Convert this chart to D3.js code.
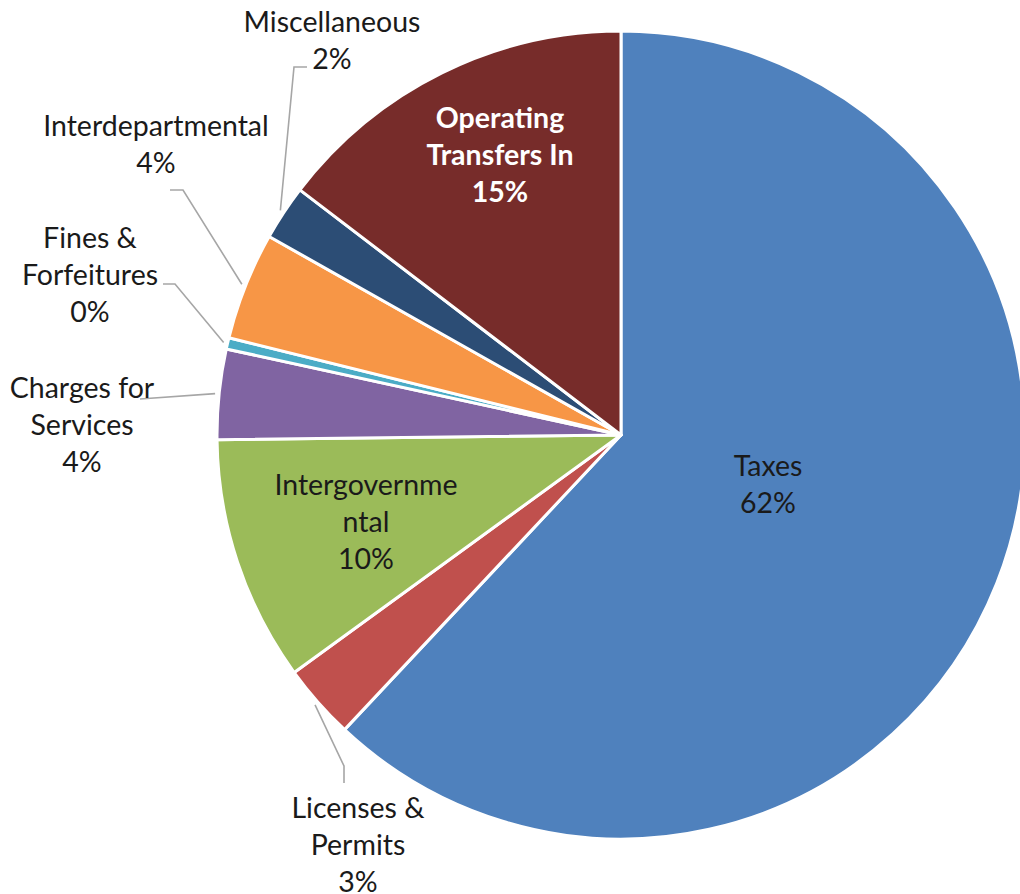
<!DOCTYPE html>
<html>
<head>
<meta charset="utf-8">
<script src="https://cdn.jsdelivr.net/npm/d3@7"></script>
<style>
  html, body { margin: 0; padding: 0; background: #fff; }
  svg { display: block; }
  .lbl { font-family: Lato, "Open Sans", sans-serif; font-size: 28.5px; fill: #1a1a1a; }
</style>
</head>
<body>
<div id="chart"></div>
<script>
// Revenue by source, clockwise from 12 o'clock
const categories = ['Taxes','Licenses & Permits','Intergovernmental','Charges for Services','Fines & Forfeitures','Interdepartmental','Miscellaneous','Operating Transfers In'];
const values = [61.9, 3.0, 9.8, 3.6, 0.45, 4.3, 2.2, 14.6];
const colors = ['#4F81BD','#C0504D','#9BBB59','#8064A2','#4BACC6','#F79646','#2C4D75','#772C2A'];
// how each label name is broken into lines
const labelLines = [['Taxes'],['Licenses &','Permits'],['Intergovernme','ntal'],['Charges for','Services'],['Fines &','Forfeitures'],['Interdepartmental'],['Miscellaneous'],['Operating','Transfers In']];

(function() {
  const W = 1020, H = 894;
  const cx = 621, cy = 435, R = 404;
  const LH = 36.8;

  // label placement: text centre x, first baseline y, leader elbow points (none = inside label)
  const place = {
    'Taxes':                  {x: 768, y: 476},
    'Licenses & Permits':     {x: 358, y: 818, leader: [[344,783],[344,766]]},
    'Intergovernmental':      {x: 366, y: 495},
    'Charges for Services':   {x: 82,  y: 398, leader: [[140,399]]},
    'Fines & Forfeitures':    {x: 90,  y: 248, leader: [[163,284],[175,284]]},
    'Interdepartmental':      {x: 156, y: 136, leader: [[170,190],[183,190]]},
    'Miscellaneous':          {x: 332, y: 32,  leader: [[307,67],[294,67]]},
    'Operating Transfers In': {x: 500, y: 128, bold: true, color: '#fff'}
  };

  const data = categories.map((c,i) => ({cat: c, value: values[i], color: colors[i], lines: labelLines[i]}));
  const total = d3.sum(values);

  const svg = d3.select('#chart').append('svg').attr('width', W).attr('height', H).attr('viewBox', `0 0 ${W} ${H}`);
  const g = svg.append('g').attr('transform', `translate(${cx},${cy})`);

  const pie = d3.pie().value(d => d.value).sort(null);
  const arc = d3.arc().innerRadius(0).outerRadius(R);
  const arcs = pie(data);

  g.selectAll('path.slice').data(arcs).join('path')
    .attr('class', 'slice')
    .attr('d', arc)
    .attr('fill', d => d.data.color)
    .attr('stroke', '#fff').attr('stroke-width', 3).attr('stroke-linejoin', 'round');

  // leader lines from label to just outside the slice middle
  arcs.forEach(a => {
    const p = place[a.data.cat];
    if (!p.leader) return;
    const mid = (a.startAngle + a.endAngle) / 2;
    const end = d3.pointRadial(mid, R + 4);
    const pts = p.leader.map(q => [q[0] - cx, q[1] - cy]).concat([end]);
    g.append('path')
      .attr('d', d3.line()(pts))
      .attr('fill', 'none').attr('stroke', '#a6a6a6').attr('stroke-width', 1.6);
  });

  // labels
  arcs.forEach(a => {
    const p = place[a.data.cat];
    const pct = Math.round(a.data.value / total * 100) + '%';
    const lines = a.data.lines.concat([pct]);
    const t = svg.append('text').attr('class', 'lbl')
      .attr('text-anchor', 'middle')
      .style('fill', p.color || '#1a1a1a')
      .style('font-weight', p.bold ? 700 : 400);
    lines.forEach((s, i) => {
      t.append('tspan').attr('x', p.x).attr('y', p.y + i * LH).text(s);
    });
  });
})();
</script>
</body>
</html>
